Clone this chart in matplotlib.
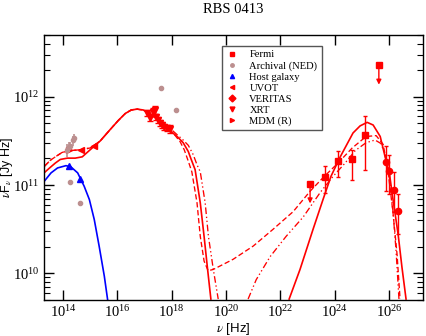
import numpy as np
import matplotlib
matplotlib.use("Agg")
import matplotlib.pyplot as plt
from matplotlib.ticker import LogLocator, LogFormatterMathtext, NullFormatter, FixedLocator, NullLocator

plt.rcParams.update({"font.family": "serif", "font.serif": ["Liberation Serif"],
                     "mathtext.fontset": "stix", "font.size": 11})

RED = "#ff0000"
GREY = "#bc8f8f"
BLUE = "#0000ff"

# --- model curves (log10 nu, log10 nuFnu) ---
solid_x = [13.31, 13.53, 13.72, 13.90, 14.16, 14.45, 14.71, 15.00, 15.37, 15.74, 16.03, 16.29, 16.51, 16.73,
           16.95, 17.21, 17.47, 17.72, 17.98, 18.20, 18.42, 18.61, 18.68, 18.86, 19.05, 19.19, 19.32, 19.44]
solid_y = [11.14, 11.20, 11.25, 11.29, 11.305, 11.305, 11.32, 11.40, 11.50, 11.63, 11.73, 11.81, 11.85, 11.86,
           11.85, 11.81, 11.74, 11.66, 11.605, 11.55, 11.48, 11.38, 11.32, 11.175, 10.80, 10.42, 10.045, 9.71]
solid_ic_x = [22.32, 22.72, 23.20, 23.57, 23.86, 24.20, 24.67, 24.93, 25.19, 25.41, 25.67, 25.85, 26.00, 26.14,
              26.33, 26.47, 26.62]
solid_ic_y = [9.71, 10.045, 10.50, 10.84, 11.10, 11.32, 11.59, 11.67, 11.71, 11.68, 11.55, 11.32, 11.15, 10.84,
              10.44, 10.07, 9.71]

dashed_x = [13.31, 13.53, 13.72, 13.97, 14.27, 14.64, 15.00, 15.37, 15.74, 16.03, 16.29, 16.51, 16.73, 17.06,
            17.39, 17.76, 18.13, 18.31, 18.46, 18.61, 18.74, 18.93, 19.05, 19.19, 19.34, 19.53, 20.26, 21.00,
            21.73, 22.47, 23.09, 23.57, 24.12, 24.64, 25.15, 25.52, 25.78, 25.96, 26.14, 26.29, 26.40]
dashed_y = [11.21, 11.28, 11.32, 11.37, 11.39, 11.40, 11.42, 11.50, 11.63, 11.73, 11.81, 11.85, 11.86, 11.84,
            11.76, 11.65, 11.56, 11.49, 11.40, 11.27, 11.15, 10.80, 10.42, 10.14, 10.03, 10.045, 10.16, 10.31,
            10.50, 10.70, 10.93, 11.085, 11.25, 11.42, 11.55, 11.56, 11.46, 11.15, 10.69, 10.215, 9.71]

dashdot_x = [13.31, 13.53, 13.72, 13.97, 14.27, 14.64, 15.00, 15.37, 15.74, 16.03, 16.29, 16.51, 16.73, 16.95,
             17.21, 17.47, 17.72, 17.98, 18.20, 18.42, 18.61, 18.79, 18.93, 19.05, 19.23, 19.35, 19.53, 19.71]
dashdot_y = [11.21, 11.28, 11.32, 11.37, 11.39, 11.40, 11.42, 11.50, 11.63, 11.73, 11.81, 11.85, 11.86, 11.85,
             11.82, 11.76, 11.70, 11.63, 11.57, 11.51, 11.45, 11.345, 11.23, 11.15, 10.80, 10.42, 10.045, 9.71]
dashdot_ic_x = [20.81, 21.11, 21.62, 22.21, 22.84, 23.46, 23.94, 24.38, 24.75, 25.15, 25.48, 25.70, 25.89,
                26.03, 26.14, 26.25, 26.36]
dashdot_ic_y = [9.71, 9.93, 10.19, 10.42, 10.64, 10.915, 11.10, 11.25, 11.39, 11.48, 11.51, 11.47, 11.31,
                11.03, 10.70, 10.27, 9.71]

host_x = [13.31, 13.56, 13.80, 14.11, 14.29, 14.54, 14.78, 14.97, 15.15, 15.33, 15.52, 15.64]
host_y = [11.043, 11.138, 11.194, 11.220, 11.206, 11.138, 10.986, 10.836, 10.610, 10.308, 9.969, 9.706]

# --- data points ---
ned_x = [14.14, 14.21, 14.27, 14.36, 14.39, 14.25, 14.64, 17.61, 18.17]
ned_y = [2.5e11, 2.7e11, 2.8e11, 3.2e11, 3.4e11, 1.09e11, 6.2e10, 1.25e12, 7.1e11]
ned_err = [0.4e11, 0.35e11, 0.3e11, 0.4e11, 0.35e11, 0, 0, 0, 0]

hostpt_x = [14.23, 14.64]
hostpt_y = [1.63e11, 1.17e11]

uvot_x = [14.65, 15.14]
uvot_y = [2.47e11, 2.77e11]

mdm_x = [14.21]
mdm_y = [2.5e11]

xrt_x = [17.10, 17.21, 17.32, 17.39, 17.43, 17.50, 17.57, 17.65, 17.72, 17.83, 17.94]
xrt_y = [6.6e11, 5.8e11, 6.8e11, 7.1e11, 5.9e11, 5.5e11, 5.1e11, 4.8e11, 4.6e11, 4.45e11, 4.35e11]
xrt_err = [0.55e11, 0.5e11, 0.6e11, 0.8e11, 0.5e11, 0.45e11, 0.4e11, 0.4e11, 0.35e11, 0.35e11, 0.5e11]

fermi_x = [23.63, 24.12, 24.62, 25.12]
fermi_y = [1.24e11, 1.86e11, 1.95e11, 3.67e11]
fermi_lo = [8.2e10, 1.24e11, 1.15e11, 1.50e11]
fermi_hi = [1.63e11, 2.41e11, 2.50e11, 5.98e11]
fermi_ul_x = [23.09, 25.62]
fermi_ul_y = [1.04e11, 2.26e12]
fermi_ul_end = [6.2e10, 1.37e12]

veritas_x = [25.87, 26.01, 26.16, 26.32]
veritas_y = [1.81e11, 1.46e11, 8.9e10, 5.06e10]
veritas_lo = [8.5e10, 8.0e10, 5.0e10, 2.8e10]
veritas_hi = [2.75e11, 2.2e11, 1.4e11, 8.0e10]

xtick_pos = [1e14, 1e16, 1e18, 1e20, 1e22, 1e24, 1e26]

p = lambda a: 10 ** np.asarray(a)

fig = plt.figure(figsize=(4.26, 3.36), dpi=100)
ax = fig.add_axes([44 / 426, 1 - 300 / 336, 379.3 / 426, 265 / 336])

lw = 1.2
ax.plot(p(solid_x), p(solid_y), "-", color=RED, lw=lw)
ax.plot(p(solid_ic_x), p(solid_ic_y), "-", color=RED, lw=lw)
ax.plot(p(dashed_x), p(dashed_y), ls=(0, (4, 2)), color=RED, lw=lw * 0.8)
ax.plot(p(dashdot_x), p(dashdot_y), ls=(0, (5, 2, 1, 2, 1, 2)), color=RED, lw=lw * 0.8)
ax.plot(p(dashdot_ic_x), p(dashdot_ic_y), ls=(0, (5, 2, 1, 2, 1, 2)), color=RED, lw=lw * 0.8)
ax.plot(p(host_x), p(host_y), "-", color=BLUE, lw=lw)

ax.errorbar(p(ned_x), ned_y, yerr=ned_err, fmt="o", color=GREY, ms=3, elinewidth=1.2, capsize=0, zorder=3)
ax.plot(p(hostpt_x), hostpt_y, "^", color=BLUE, ms=4, ls="none")
ax.plot(p(uvot_x), uvot_y, "<", color=RED, ms=4, ls="none")
ax.plot(p(mdm_x), mdm_y, ">", color=RED, ms=4, ls="none")
ax.errorbar(p(xrt_x), xrt_y, yerr=xrt_err, fmt="v", color=RED, ms=4, elinewidth=1.0, capsize=2.5, zorder=4)

fy = np.array(fermi_y)
ax.errorbar(p(fermi_x), fy, yerr=[fy - np.array(fermi_lo), np.array(fermi_hi) - fy], fmt="s", color=RED,
            ms=4.5, elinewidth=1.0, capsize=1.5, zorder=4)
ax.plot(p(fermi_ul_x), fermi_ul_y, "s", color=RED, ms=4.5, ls="none")
for xu, yu, ye in zip(fermi_ul_x, fermi_ul_y, fermi_ul_end):
    ax.annotate("", xy=(10 ** xu, ye), xytext=(10 ** xu, yu),
                arrowprops=dict(arrowstyle="-|>", color=RED, lw=1.0, mutation_scale=7, shrinkA=0, shrinkB=0))

vy = np.array(veritas_y)
ax.errorbar(p(veritas_x), vy, yerr=[vy - np.array(veritas_lo), np.array(veritas_hi) - vy], fmt="o", color=RED,
            ms=4.5, elinewidth=1.0, capsize=1.5, zorder=4)

ax.set_xscale("log")
ax.set_yscale("log")
ax.set_xlim(2e13, 1.8e27)
ax.set_ylim(5e9, 5e12)

ax.xaxis.set_major_locator(FixedLocator(xtick_pos))
ax.xaxis.set_major_formatter(LogFormatterMathtext())
ax.xaxis.set_minor_locator(NullLocator())
ax.yaxis.set_major_locator(LogLocator(base=10.0, numticks=10))
ax.yaxis.set_minor_locator(LogLocator(base=10.0, subs=np.arange(2, 10), numticks=10))
ax.yaxis.set_minor_formatter(NullFormatter())
ax.tick_params(which="both", direction="in", top=True, right=True, labelsize=10.5)
ax.tick_params(which="major", length=7, width=1.0)
ax.tick_params(which="minor", length=4, width=0.8)
ax.tick_params(axis="x", pad=3)
for s in ax.spines.values():
    s.set_linewidth(1.0)

ax.set_title("RBS 0413", fontsize=10.5, pad=16)
ax.set_xlabel(r"$\nu$ [Hz]", family="Liberation Sans", fontsize=9.5)
ax.xaxis.set_label_coords(0.498, -0.081)
ax.set_ylabel(r"$\nu$F$_\nu$ [Jy Hz]", family="Liberation Sans", fontsize=9)
ax.yaxis.set_label_coords(-0.077, 0.5)

h = [
    plt.Line2D([], [], marker="s", color=RED, ls="none", ms=3.5),
    plt.Line2D([], [], marker="o", color=GREY, ls="none", ms=2.5),
    plt.Line2D([], [], marker="^", color=BLUE, ls="none", ms=3),
    plt.Line2D([], [], marker="<", color=RED, ls="none", ms=3),
    plt.Line2D([], [], marker="D", color=RED, ls="none", ms=3.5),
    plt.Line2D([], [], marker="v", color=RED, ls="none", ms=3.5),
    plt.Line2D([], [], marker=">", color=RED, ls="none", ms=3),
]
labels = ["Fermi", "Archival (NED)", "Host galaxy", "UVOT", "VERITAS", "XRT", "MDM (R)"]
leg = ax.legend(h, labels, loc="upper left", bbox_to_anchor=(0.469, 0.96), fontsize=7.6, frameon=True,
                fancybox=False, edgecolor="#555555", framealpha=1, handlelength=1.2, handletextpad=1.0,
                labelspacing=0.16, borderpad=0.4, borderaxespad=0)
leg.get_frame().set_linewidth(1.0)

fig.savefig("out.png", dpi=100)
